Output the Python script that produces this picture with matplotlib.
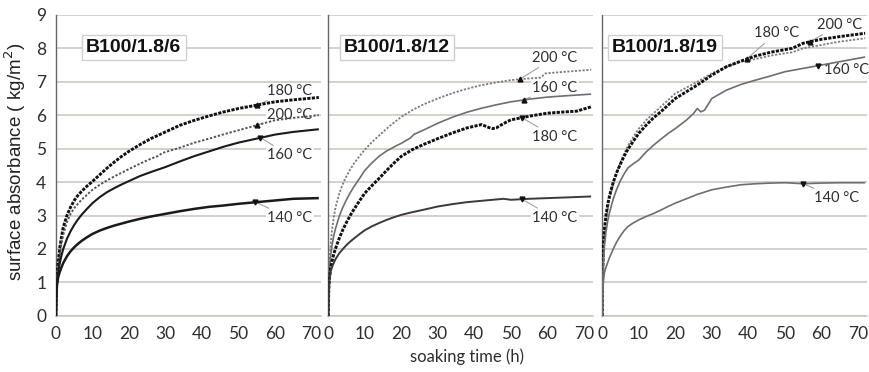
import matplotlib
matplotlib.use("Agg")
import matplotlib.pyplot as plt

# ---------------- data ----------------
panel_titles = ["B100/1.8/6", "B100/1.8/12", "B100/1.8/19"]
x_ticks = [0, 10, 20, 30, 40, 50, 60, 70]
y_ticks = [0, 1, 2, 3, 4, 5, 6, 7, 8, 9]

# each series: list of (soaking time h, absorbance kg/m2)
# Panel 1 : B100/1.8/6
p1_180 = [(0, 0), (0.1, 0.7), (0.3, 1.2), (0.6, 1.6), (1, 2.0), (1.5, 2.35), (2, 2.65), (3, 3.0), (4, 3.25),
          (5, 3.45), (6, 3.6), (7, 3.72), (8.5, 3.88), (10, 4.02), (12, 4.22), (14, 4.42), (16, 4.6), (18, 4.77),
          (20, 4.92), (23, 5.12), (26, 5.3), (30, 5.5), (34, 5.7), (38, 5.85), (42, 5.98), (46, 6.1), (50, 6.2),
          (55, 6.3), (60, 6.4), (65, 6.46), (72, 6.53)]
p1_200 = [(0, 0), (0.1, 0.65), (0.3, 1.1), (0.6, 1.45), (1, 1.8), (1.5, 2.15), (2, 2.42), (3, 2.8), (4, 3.05),
          (5, 3.22), (6, 3.35), (7, 3.47), (8.5, 3.62), (10, 3.77), (12, 3.92), (14, 4.05), (16, 4.17), (18, 4.28),
          (20, 4.39), (23, 4.55), (26, 4.7), (28, 4.78), (29, 4.86), (30, 4.9), (34, 5.03), (38, 5.18), (42, 5.3),
          (46, 5.43), (50, 5.55), (55, 5.7), (60, 5.85), (65, 5.92), (72, 6.0)]
p1_160 = [(0, 0), (0.1, 0.6), (0.3, 1.0), (0.6, 1.3), (1, 1.55), (1.5, 1.8), (2, 2.0), (3, 2.3), (4, 2.53),
          (5, 2.72), (6, 2.88), (7, 3.02), (8.5, 3.2), (10, 3.37), (12, 3.55), (14, 3.7), (16, 3.82), (18, 3.93),
          (20, 4.03), (23, 4.18), (26, 4.3), (30, 4.45), (34, 4.62), (38, 4.78), (42, 4.92), (46, 5.06), (50, 5.18),
          (55, 5.3), (60, 5.42), (65, 5.5), (72, 5.58)]
p1_140 = [(0, 0), (0.1, 0.6), (0.3, 0.95), (0.6, 1.15), (1, 1.3), (1.5, 1.45), (2, 1.58), (3, 1.78), (4, 1.93),
          (5, 2.05), (6, 2.15), (7, 2.24), (8.5, 2.35), (10, 2.45), (12, 2.55), (14, 2.63), (16, 2.7), (18, 2.76),
          (20, 2.82), (23, 2.9), (26, 2.97), (30, 3.05), (34, 3.13), (38, 3.2), (42, 3.26), (46, 3.3), (50, 3.35),
          (55, 3.4), (60, 3.45), (65, 3.5), (72, 3.52)]

# Panel 2 : B100/1.8/12
p2_200 = [(0, 0), (0.1, 0.9), (0.3, 1.6), (0.6, 2.1), (1, 2.55), (1.5, 2.95), (2, 3.25), (3, 3.65), (4, 3.95),
          (5, 4.18), (6, 4.38), (7, 4.55), (8.5, 4.77), (10, 4.97), (12, 5.2), (14, 5.4), (16, 5.6), (18, 5.78),
          (20, 5.95), (23, 6.15), (26, 6.32), (30, 6.5), (34, 6.66), (38, 6.79), (42, 6.9), (46, 6.98), (50, 7.05),
          (55, 7.1), (58, 7.12), (59.5, 7.25), (65, 7.3), (72, 7.36)]
p2_160 = [(0, 0), (0.1, 0.8), (0.3, 1.35), (0.6, 1.75), (1, 2.1), (1.5, 2.4), (2, 2.62), (3, 2.98), (4, 3.25),
          (5, 3.48), (6, 3.68), (7, 3.86), (8.5, 4.1), (10, 4.35), (12, 4.58), (14, 4.78), (16, 4.93), (18, 5.05),
          (20, 5.16), (22.5, 5.32), (23.5, 5.43), (26, 5.55), (30, 5.76), (34, 5.94), (38, 6.09), (42, 6.21),
          (46, 6.31), (50, 6.4), (55, 6.48), (60, 6.54), (65, 6.58), (72, 6.63)]
p2_180 = [(0, 0), (0.1, 0.7), (0.3, 1.1), (0.6, 1.4), (1, 1.62), (1.5, 1.85), (2, 2.02), (3, 2.32), (4, 2.58),
          (5, 2.8), (6, 3.0), (7, 3.18), (8.5, 3.43), (10, 3.67), (12, 3.9), (14, 4.12), (16, 4.35), (18, 4.57),
          (20, 4.77), (23, 4.97), (26, 5.12), (30, 5.3), (34, 5.47), (38, 5.62), (42, 5.72), (44, 5.63), (45, 5.6),
          (46, 5.62), (48, 5.75), (50, 5.86), (55, 5.97), (60, 6.06), (65, 6.1), (68, 6.12), (72, 6.25)]
p2_140 = [(0, 0), (0.1, 0.7), (0.3, 1.05), (0.6, 1.3), (1, 1.45), (1.5, 1.58), (2, 1.7), (3, 1.87), (4, 2.0),
          (5, 2.12), (6, 2.22), (7, 2.31), (8.5, 2.44), (10, 2.56), (12, 2.68), (14, 2.78), (16, 2.87), (18, 2.95),
          (20, 3.02), (23, 3.1), (26, 3.17), (30, 3.27), (34, 3.34), (38, 3.4), (42, 3.44), (46, 3.48), (48, 3.5),
          (50, 3.47), (55, 3.5), (60, 3.52), (65, 3.54), (72, 3.57)]

# Panel 3 : B100/1.8/19
p3_180 = [(0, 0), (0.1, 1.2), (0.3, 2.1), (0.6, 2.6), (1, 3.0), (1.5, 3.35), (2, 3.6), (3, 4.0), (4, 4.3),
          (5, 4.55), (6, 4.78), (7, 4.98), (8.5, 5.22), (10, 5.46), (12, 5.7), (14, 5.92), (16, 6.1), (18, 6.3),
          (20, 6.5), (23, 6.7), (26, 6.9), (30, 7.2), (34, 7.45), (38, 7.62), (42, 7.77), (46, 7.88), (50, 7.96),
          (52, 8.0), (55, 8.15), (60, 8.27), (65, 8.35), (72, 8.45)]
p3_200 = [(0, 0), (0.1, 1.1), (0.3, 1.9), (0.6, 2.4), (1, 2.8), (1.5, 3.2), (2, 3.5), (3, 3.95), (4, 4.3),
          (5, 4.6), (6, 4.85), (7, 5.08), (8.5, 5.35), (10, 5.6), (12, 5.85), (14, 6.05), (16, 6.25), (18, 6.45),
          (20, 6.65), (23, 6.82), (26, 7.0), (30, 7.25), (34, 7.45), (38, 7.6), (42, 7.68), (46, 7.78), (50, 7.85),
          (52, 7.88), (55, 8.0), (60, 8.1), (65, 8.2), (72, 8.3)]
p3_160 = [(0, 0), (0.1, 0.9), (0.3, 1.6), (0.6, 2.1), (1, 2.5), (1.5, 2.85), (2, 3.1), (3, 3.5), (4, 3.8),
          (5, 4.05), (6, 4.25), (7, 4.42), (8.5, 4.55), (10, 4.66), (12, 4.9), (14, 5.1), (16, 5.28), (18, 5.45),
          (20, 5.6), (23, 5.85), (25, 6.05), (26, 6.2), (27, 6.1), (28, 6.15), (30, 6.5), (34, 6.75), (38, 6.92),
          (42, 7.05), (46, 7.17), (50, 7.3), (55, 7.4), (60, 7.5), (65, 7.6), (72, 7.74)]
p3_140 = [(0, 0), (0.1, 0.7), (0.3, 1.05), (0.6, 1.3), (1, 1.45), (1.5, 1.6), (2, 1.75), (3, 2.0), (4, 2.22),
          (5, 2.4), (6, 2.55), (7, 2.67), (8.5, 2.78), (10, 2.87), (12, 2.97), (14, 3.06), (16, 3.16), (18, 3.27),
          (20, 3.37), (23, 3.5), (26, 3.63), (30, 3.77), (34, 3.85), (38, 3.92), (42, 3.95), (46, 3.97), (50, 3.98),
          (52, 3.97), (55, 3.95), (60, 3.97), (65, 3.98), (72, 3.98)]

# label annotations: (text, arrow point x, y, label x, y, arrow marker)
p1_labels = [("180 °C", 55, 6.3, 64, 6.72, "^"), ("200 °C", 55, 5.7, 64, 6.02, "^"),
             ("160 °C", 56, 5.33, 64, 4.8, "v"), ("140 °C", 54.5, 3.41, 64, 2.93, "v")]
p2_labels = [("200 °C", 52.5, 7.08, 62, 7.72, "^"), ("160 °C", 53.5, 6.46, 62, 6.82, "^"),
             ("180 °C", 53, 5.93, 62, 5.35, "v"), ("140 °C", 53, 3.49, 62, 2.93, "v")]
p3_labels = [("180 °C", 39.6, 7.68, 47.6, 8.46, "^"), ("200 °C", 56.8, 8.19, 65, 8.7, "^"),
             ("160 °C", 59, 7.48, 67, 7.36, "v"), ("140 °C", 55, 3.95, 64.2, 3.53, "v")]

title_x = [21.3, 18.8, 17.2]

# ---------------- styling ----------------
grid_col = "#cdc2bb"
text_col = "#2e2e2e"
dotted_black = dict(color="#111111", lw=2.1, ls=(0, (1.1, 0.45)))
dotted_gray = dict(color="#7a7a7a", lw=1.3, ls=(0, (1.2, 0.9)))

fig = plt.figure(figsize=(8.69, 3.72), dpi=100)
bottom, top = 0.151, 0.960
lefts = [0.0644, 0.3778, 0.6931]
width = 0.3050
axes = [fig.add_axes([l, bottom, width, top - bottom]) for l in lefts]

panels = [
    [(p1_180, dotted_black), (p1_200, dict(color="#555555", lw=1.4, ls=(0, (1.2, 0.9)))),
     (p1_160, dict(color="#1a1a1a", lw=1.5, ls="-")), (p1_140, dict(color="#1a1a1a", lw=1.8, ls="-"))],
    [(p2_200, dotted_gray), (p2_160, dict(color="#6e6e6e", lw=1.2, ls="-")),
     (p2_180, dotted_black), (p2_140, dict(color="#3a3a3a", lw=1.4, ls="-"))],
    [(p3_200, dotted_gray), (p3_180, dotted_black),
     (p3_160, dict(color="#6e6e6e", lw=1.2, ls="-")), (p3_140, dict(color="#6e6e6e", lw=1.2, ls="-"))],
]
labels_all = [p1_labels, p2_labels, p3_labels]

for i, ax in enumerate(axes):
    ax.set_xlim(0, 72.6)
    ax.set_ylim(0, 9)
    ax.set_yticks(y_ticks)
    ax.set_xticks(x_ticks)
    ax.grid(axis="y", color=grid_col, lw=1.1, zorder=0)
    ax.set_axisbelow(True)
    for s in ["top", "right"]:
        ax.spines[s].set_visible(False)
    ax.spines["bottom"].set_color(grid_col)
    ax.spines["bottom"].set_linewidth(1.1)
    ax.spines["left"].set_color("#666666")
    ax.spines["left"].set_linewidth(1.0)
    ax.tick_params(length=0, labelsize=12.5, colors=text_col, pad=7)
    for lab in ax.get_xticklabels() + ax.get_yticklabels():
        lab.set_fontfamily("Lato")
    if i > 0:
        ax.set_yticklabels([])

    for series, st in panels[i]:
        t = [p[0] for p in series]
        v = [p[1] for p in series]
        ax.plot(t, v, zorder=3, solid_capstyle="butt", **st)

    for txt, px, py, lx, ly, mk in labels_all[i]:
        ax.annotate(txt, xy=(px, py), xytext=(lx, ly), ha="center", va="center",
                    fontsize=10.5, family="Lato", color=text_col, zorder=2,
                    bbox=dict(boxstyle="square,pad=0.1", fc="white", ec="none"),
                    arrowprops=dict(arrowstyle="-", color="#a0a0a0", lw=0.8,
                                    shrinkA=2, shrinkB=0))
        ax.plot([px], [py], marker=mk, ms=3.5, color="#111111", zorder=6, ls="none")

    ax.text(title_x[i], 8.03, panel_titles[i], ha="center", va="center",
            fontsize=14, fontweight="bold", family="Liberation Sans", color="#111111", zorder=6,
            bbox=dict(boxstyle="square,pad=0.22", fc="white", ec="#cfcfcf", lw=1.0))

fig.text(0.018, (bottom + top) / 2 + 0.01, "surface absorbance ( kg/m$^2$)", rotation=90,
         ha="center", va="center", fontsize=13.5, family="Liberation Sans", color="#222222")
fig.text(0.537, 0.04, "soaking time (h)", ha="center", va="center",
         fontsize=12, family="Lato", color=text_col)

fig.savefig("out.png", dpi=100)
